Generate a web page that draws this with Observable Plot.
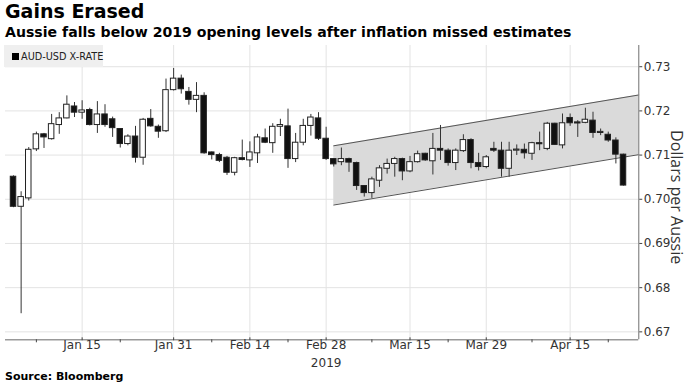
<!DOCTYPE html>
<html><head><meta charset="utf-8">
<script src="https://cdn.jsdelivr.net/npm/d3@7"></script>
<script src="https://cdn.jsdelivr.net/npm/@observablehq/plot@0.6"></script>
<style>
body{margin:0;background:#fff;font-family:"DejaVu Sans",sans-serif;}
#wrap{position:relative;width:694px;height:384px;overflow:hidden;background:#fff}
#title{height:23px;line-height:23px;font-size:19px;font-weight:bold;padding-left:5px;color:#000;white-space:nowrap}
#sub{height:19px;line-height:19px;font-size:14.1px;font-weight:bold;padding-left:5px;color:#000;white-space:nowrap}
#legend{position:absolute;left:4px;top:45px;width:99px;height:22px;background:#efefef;font-size:10.8px;font-family:"DejaVu Sans Condensed","DejaVu Sans",sans-serif;color:#222;display:flex;align-items:center;white-space:nowrap}
#legend .sw{flex:0 0 auto;display:inline-block;width:7px;height:7px;background:#000;margin:0 2px 0 8px}
#src{height:14px;line-height:14px;font-size:11px;font-weight:bold;padding-left:5px;color:#000}
#chart svg{display:block}
</style></head>
<body>
<div id="wrap">
<div id="title">Gains Erased</div>
<div id="sub">Aussie falls below 2019 opening levels after inflation missed estimates</div>
<div id="chart"></div>
<div id="src">Source: Bloomberg</div>
<div id="legend"><span class="sw"></span><span>AUD-USD X-RATE</span></div>
</div>
<script>
// Trading days (weekdays) from 2 Jan 2019 to 24 Apr 2019
const dates = d3.utcDays(new Date(Date.UTC(2019,0,2)), new Date(Date.UTC(2019,3,25)))
  .filter(d => d.getUTCDay() !== 0 && d.getUTCDay() !== 6)
  .map(d => d3.utcFormat("%Y-%m-%d")(d));

const open  = [0.7051,0.6983,0.7002,0.7113,0.7147,0.7136,0.7168,0.7183,0.7210,0.7196,
               0.7202,0.7168,0.7192,0.7181,0.7159,0.7125,0.7142,0.7094,0.7182,0.7164,
               0.7154,0.7247,0.7273,0.7243,0.7225,0.7234,0.7106,0.7100,0.7094,0.7060,
               0.7093,0.7088,0.7104,0.7138,0.7127,0.7164,0.7165,0.7091,0.7128,0.7166,
               0.7183,0.7137,0.7091,0.7084,0.7091,0.7082,0.7030,0.7014,0.7042,0.7069,
               0.7080,0.7091,0.7063,0.7084,0.7103,0.7086,0.7114,0.7110,0.7082,0.7109,
               0.7134,0.7082,0.7073,0.7114,0.7110,0.7069,0.7110,0.7112,0.7103,0.7127,
               0.7114,0.7171,0.7122,0.7184,0.7174,0.7173,0.7178,0.7150,0.7146,0.7133,
               0.7101];
const high  = [0.7053,0.7017,0.7117,0.7152,0.7149,0.7192,0.7196,0.7234,0.7219,0.7223,
               0.7206,0.7221,0.7214,0.7186,0.7160,0.7146,0.7165,0.7183,0.7203,0.7168,
               0.7272,0.7296,0.7281,0.7253,0.7264,0.7241,0.7107,0.7104,0.7097,0.7095,
               0.7134,0.7130,0.7147,0.7159,0.7171,0.7181,0.7204,0.7149,0.7181,0.7192,
               0.7196,0.7163,0.7092,0.7116,0.7093,0.7084,0.7031,0.7050,0.7076,0.7091,
               0.7095,0.7093,0.7097,0.7109,0.7104,0.7149,0.7167,0.7114,0.7114,0.7146,
               0.7137,0.7104,0.7099,0.7129,0.7129,0.7129,0.7123,0.7125,0.7129,0.7152,
               0.7174,0.7172,0.7193,0.7193,0.7178,0.7206,0.7197,0.7159,0.7152,0.7139,
               0.7102];
const low   = [0.6981,0.6741,0.6996,0.7108,0.7115,0.7134,0.7147,0.7182,0.7185,0.7181,
               0.7166,0.7149,0.7163,0.7140,0.7116,0.7121,0.7082,0.7077,0.7163,0.7138,
               0.7151,0.7245,0.7238,0.7213,0.7196,0.7102,0.7089,0.7083,0.7054,0.7053,
               0.7087,0.7072,0.7081,0.7126,0.7104,0.7142,0.7070,0.7083,0.7121,0.7143,
               0.7133,0.7088,0.7073,0.7076,0.7061,0.7020,0.7005,0.7002,0.7027,0.7057,
               0.7050,0.7042,0.7060,0.7082,0.7086,0.7055,0.7088,0.7075,0.7065,0.7106,
               0.7069,0.7064,0.7069,0.7106,0.7050,0.7050,0.7099,0.7091,0.7088,0.7110,
               0.7110,0.7122,0.7114,0.7165,0.7140,0.7171,0.7138,0.7144,0.7129,0.7080,
               0.7030];
const close = [0.6983,0.7005,0.7112,0.7147,0.7140,0.7170,0.7183,0.7214,0.7196,0.7201,
               0.7168,0.7192,0.7168,0.7161,0.7125,0.7142,0.7094,0.7180,0.7165,0.7153,
               0.7247,0.7273,0.7249,0.7225,0.7234,0.7104,0.7100,0.7087,0.7060,0.7093,
               0.7089,0.7106,0.7140,0.7128,0.7164,0.7168,0.7091,0.7128,0.7166,0.7185,
               0.7137,0.7091,0.7079,0.7091,0.7083,0.7030,0.7014,0.7045,0.7070,0.7080,
               0.7091,0.7063,0.7084,0.7102,0.7088,0.7114,0.7110,0.7082,0.7110,0.7134,
               0.7082,0.7073,0.7095,0.7110,0.7069,0.7110,0.7112,0.7104,0.7127,0.7125,
               0.7171,0.7123,0.7172,0.7172,0.7173,0.7180,0.7150,0.7151,0.7133,0.7101,
               0.7031];

const majorTickDates  = ["2019-01-15","2019-01-31","2019-02-14","2019-02-28","2019-03-15","2019-03-29","2019-04-15"];
const majorTickLabels = ["Jan 15","Jan 31","Feb 14","Feb 28","Mar 15","Mar 29","Apr 15"];
const minorTickDates  = ["2019-01-07","2019-01-22","2019-02-07","2019-02-21","2019-03-08","2019-03-22","2019-04-08","2019-04-22"];
const yearLabel = "2019", yearLabelDate = "2019-02-28";
const yTicks = [0.67,0.68,0.69,0.70,0.71,0.72,0.73];

// Trend channel (drawn from 1 Mar to the right edge of the chart)
const channelStartDate = "2019-03-01";
const channelTop    = [0.7121, 0.7236];
const channelBottom = [0.6987, 0.7101];

const yTitle = "Dollars per Aussie";

const idx = d => dates.indexOf(d);
const xMax = 82, xMin = -1.05;
const candles = dates.map((d,i) => ({i, date:d, open:open[i], high:high[i], low:low[i], close:close[i]}));
const chan = [
  {x: idx(channelStartDate), hi: channelTop[0], lo: channelBottom[0]},
  {x: xMax, hi: channelTop[1], lo: channelBottom[1]}
];
const majorIdx = majorTickDates.map(idx);
const minorIdx = minorTickDates.map(idx);
const labelMap = new Map(majorIdx.map((v,k) => [v, majorTickLabels[k]]));
const yLo = 0.6682, yHi = 0.7348;

const chart = Plot.plot({
  width: 694, height: 328,
  marginTop: 3, marginLeft: 5, marginRight: 55.75, marginBottom: 30.7,
  style: {fontFamily: "DejaVu Sans, sans-serif", fontSize: "12px", color: "#444", background: "#fff"},
  x: {domain: [xMin, xMax]},
  y: {domain: [yLo, yHi]},
  marks: [
    Plot.gridX(majorIdx, {stroke: "#e3e3e3", strokeOpacity: 1}),
    Plot.gridY(yTicks, {stroke: "#e3e3e3", strokeOpacity: 1}),
    Plot.areaY(chan, {x: "x", y1: "lo", y2: "hi", fill: "#dadada", curve: "linear"}),
    Plot.line(chan, {x: "x", y: "hi", stroke: "#555", strokeWidth: 1}),
    Plot.line(chan, {x: "x", y: "lo", stroke: "#555", strokeWidth: 1}),
    Plot.ruleY([yLo], {stroke: "#999", strokeWidth: 1.5}),
    Plot.ruleX([xMax], {stroke: "#888", strokeWidth: 1.2}),
    Plot.axisX(majorIdx, {tickFormat: d => labelMap.get(d), tickSize: 3, tickPadding: 0, dy: -2, label: null, fill: "#333", fontSize: 12}),
    Plot.axisX(minorIdx, {tickFormat: () => "", tickSize: 3, label: null}),
    Plot.axisY(yTicks, {anchor: "right", tickFormat: d3.format(".2f"), tickSize: 3, tickPadding: 2, label: null, fill: "#333", fontSize: 12}),
    Plot.text([yTitle], {frameAnchor: "right", dx: 37, dy: 4.5, rotate: 90, textAnchor: "middle", lineAnchor: "middle", fontSize: 16, fontFamily: "Open Sans, DejaVu Sans, sans-serif", fill: "#333"}),
    Plot.text([yearLabel], {x: idx(yearLabelDate), frameAnchor: "bottom", dy: 23, lineAnchor: "middle", textAnchor: "middle", fontSize: 12, fill: "#333"}),
    Plot.ruleX(candles, {x: "i", y1: "low", y2: "high", stroke: "#333", strokeWidth: 1}),
    Plot.rect(candles, {
      x1: d => d.i - 0.36, x2: d => d.i + 0.36,
      y1: "open",
      y2: d => Math.abs(d.close - d.open) < 0.00025 ? d.open + (d.close >= d.open ? 0.00025 : -0.00025) : d.close,
      fill: d => d.close >= d.open ? "#ffffff" : "#111111",
      stroke: "#222", strokeWidth: 1
    })
  ]
});
document.getElementById("chart").appendChild(chart);
</script>
</body></html>
